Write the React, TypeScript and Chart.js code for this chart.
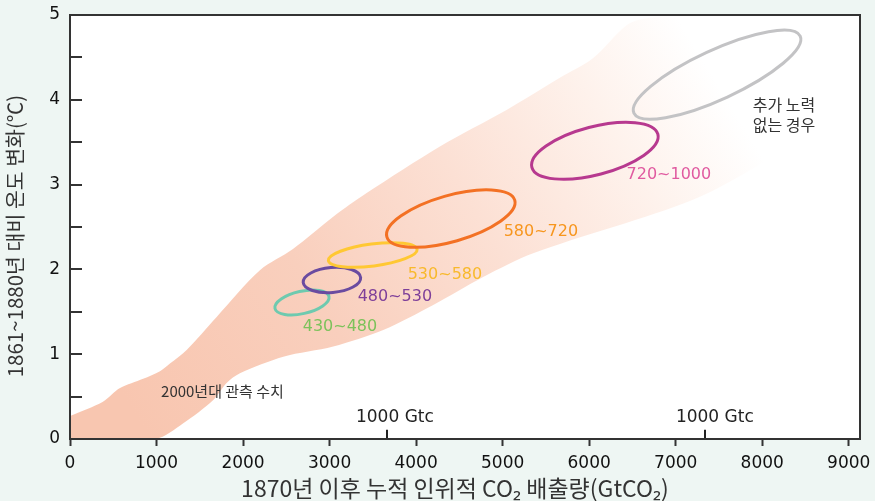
import React, { useEffect, useRef } from "react";
import { Chart, registerables } from "chart.js";

Chart.register(...registerables);

// ---- axis data ----
const xTickValues = [0, 1000, 2000, 3000, 4000, 5000, 6000, 7000, 8000, 9000];
const xMin = 0;
const xMax = 9130;
const yMin = 0;
const yMax = 5;
const yStep = 0.5;
const xTitle = "1870년 이후 누적 인위적 CO₂ 배출량(GtCO₂)";
const yTitle = "1861~1880년 대비 온도 변화(℃)";

// ---- observed/projected band (upper edge left→right, lower edge right→left) ----
const bandUpperX = [0, 381, 578, 845, 1040, 1155, 1348, 1695, 2195, 2577, 3042, 3428, 4275, 5045, 5661, 6043, 6432, 6650, 7000];
const bandUpperY = [0.27, 0.44, 0.6, 0.71, 0.8, 0.89, 1.05, 1.44, 1.99, 2.24, 2.62, 2.9, 3.45, 3.88, 4.26, 4.49, 4.88, 4.96, 4.96];
const bandLowerX = [8700, 8125, 7200, 5353, 4775, 4198, 3620, 3042, 2465, 1964, 1810, 1656, 1309, 990, 0];
const bandLowerY = [3.75, 3.33, 2.82, 2.19, 1.91, 1.58, 1.285, 1.09, 0.97, 0.775, 0.66, 0.46, 0.185, 0, 0];

// ---- CO2 concentration scenario ellipses (data units) ----
const scenarioNames = ["430~480", "480~530", "530~580", "580~720", "720~1000", "추가 노력 없는 경우"];
const scenarioCenterX = [2681, 3027, 3499, 4401, 6066, 7478];
const scenarioCenterY = [1.61, 1.875, 2.17, 2.6, 3.399, 4.296];
const scenarioHalfSpanX = [312, 332, 513, 739, 728, 961];
const scenarioHalfSpanY = [0.071, 0.029, 0.067, 0.216, 0.195, 0.454];
const scenarioHalfWidthY = [0.132, 0.147, 0.13, 0.272, 0.283, 0.29];
const scenarioColors = ["#6ECAAF", "#6A4BA0", "#FFC833", "#F37124", "#B7398F", "#C3C3C5"];

// ---- text annotations (data positions) ----
const labelTexts = ["430~480", "480~530", "530~580", "580~720", "720~1000"];
const labelX = [3120, 3755, 4333, 5442, 6921];
const labelY = [1.32, 1.675, 1.934, 2.44, 3.113];
const labelColors = ["#7CC25A", "#7E3F99", "#F8B92C", "#F7961E", "#E05AA0"];

const noteLines = ["추가 노력", "없는 경우"];
const noteX = 7891;
const noteY = [3.94, 3.7];
const obsText = "2000년대 관측 수치";
const obsX = 1762;
const obsY = 0.558;

const gtcTexts = ["1000 Gtc", "1000 Gtc"];
const gtcTickX = [3667, 7333];
const gtcLabelX = [3755, 7452];
const gtcLabelY = 0.248;
const gtcTickTop = 0.11;

const FONT_NUM = '"DejaVu Sans", sans-serif';
const FONT_KR = '"Noto Sans CJK KR", "Noto Sans", sans-serif';

const decorPlugin = {
  id: "decor",
  beforeDraw(chart: any) {
    const { ctx, chartArea } = chart;
    ctx.save();
    ctx.fillStyle = "#EEF6F3";
    ctx.fillRect(0, 0, chart.width, chart.height);
    ctx.fillStyle = "#FFFFFF";
    ctx.fillRect(chartArea.left, chartArea.top, chartArea.right - chartArea.left, chartArea.bottom - chartArea.top);
    ctx.restore();
  },
  afterDatasetsDraw(chart: any) {
    const { ctx, chartArea } = chart;
    const xs = chart.scales.x;
    const ys = chart.scales.y;
    ctx.save();
    // ellipses
    for (let i = 0; i < scenarioNames.length; i++) {
      const cx = xs.getPixelForValue(scenarioCenterX[i]);
      const cy = ys.getPixelForValue(scenarioCenterY[i]);
      const ex = xs.getPixelForValue(scenarioCenterX[i] + scenarioHalfSpanX[i]) - cx;
      const ey = ys.getPixelForValue(scenarioCenterY[i] + scenarioHalfSpanY[i]) - cy;
      const a = Math.hypot(ex, ey);
      const rot = Math.atan2(ey, ex);
      const b = Math.abs(ys.getPixelForValue(scenarioCenterY[i] + scenarioHalfWidthY[i]) - cy);
      ctx.beginPath();
      ctx.ellipse(cx, cy, a, b, rot, 0, Math.PI * 2);
      ctx.strokeStyle = scenarioColors[i];
      ctx.lineWidth = 3;
      ctx.stroke();
    }
    // range labels
    ctx.textAlign = "center";
    ctx.textBaseline = "middle";
    ctx.font = `16px ${FONT_NUM}`;
    for (let i = 0; i < labelTexts.length; i++) {
      ctx.fillStyle = labelColors[i];
      ctx.fillText(labelTexts[i], xs.getPixelForValue(labelX[i]), ys.getPixelForValue(labelY[i]));
    }
    // note
    ctx.fillStyle = "#333333";
    ctx.textAlign = "left";
    ctx.font = `16px ${FONT_KR}`;
    noteLines.forEach((t, i) => ctx.fillText(t, xs.getPixelForValue(noteX), ys.getPixelForValue(noteY[i])));
    ctx.textAlign = "center";
    ctx.font = `15px ${FONT_KR}`;
    ctx.fillText(obsText, xs.getPixelForValue(obsX), ys.getPixelForValue(obsY));
    // 1000 Gtc markers
    ctx.font = `17px ${FONT_NUM}`;
    ctx.fillStyle = "#222222";
    ctx.strokeStyle = "#222222";
    ctx.lineWidth = 2;
    for (let i = 0; i < gtcTexts.length; i++) {
      ctx.fillText(gtcTexts[i], xs.getPixelForValue(gtcLabelX[i]), ys.getPixelForValue(gtcLabelY));
      const tx = Math.round(xs.getPixelForValue(gtcTickX[i]));
      ctx.beginPath();
      ctx.moveTo(tx, ys.getPixelForValue(0));
      ctx.lineTo(tx, ys.getPixelForValue(gtcTickTop));
      ctx.stroke();
    }
    // inward y ticks
    ctx.strokeStyle = "#333333";
    ctx.lineWidth = 2;
    ys.ticks.forEach((t: any) => {
      const py = Math.round(ys.getPixelForValue(t.value));
      ctx.beginPath();
      ctx.moveTo(chartArea.left, py);
      ctx.lineTo(chartArea.left + 12, py);
      ctx.stroke();
    });
    // frame
    ctx.lineWidth = 2;
    ctx.strokeRect(chartArea.left, chartArea.top, chartArea.right - chartArea.left, chartArea.bottom - chartArea.top);
    // axis titles
    ctx.fillStyle = "#333333";
    ctx.textAlign = "center";
    ctx.textBaseline = "middle";
    ctx.font = `23px ${FONT_KR}`;
    ctx.fillText(xTitle, 455, 488);
    ctx.save();
    ctx.font = `20.5px ${FONT_KR}`;
    ctx.translate(15, 236);
    ctx.rotate(-Math.PI / 2);
    ctx.fillText(yTitle, 0, 0);
    ctx.restore();
    ctx.restore();
  },
};

export default function App() {
  const canvasRef = useRef<HTMLCanvasElement | null>(null);

  useEffect(() => {
    const canvas = canvasRef.current;
    if (!canvas) return;
    const bandPoints = [
      ...bandUpperX.map((x, i) => ({ x, y: bandUpperY[i] })),
      ...bandLowerX.map((x, i) => ({ x, y: bandLowerY[i] })),
    ];
    const chart = new Chart(canvas, {
      type: "scatter",
      data: {
        datasets: [
          {
            label: "band",
            data: bandPoints,
            showLine: true,
            fill: "shape",
            tension: 0.3,
            borderWidth: 0,
            borderColor: "rgba(0,0,0,0)",
            pointRadius: 0,
            backgroundColor: (c: any) => {
              const { chart: ch } = c;
              const area = ch.chartArea;
              if (!area) return "#F9CCB8";
              const g = ch.ctx.createLinearGradient(area.left + 80, area.bottom, area.left + 0.88 * (area.right - area.left), area.top + 50);
              g.addColorStop(0, "#F8C6B0");
              g.addColorStop(0.3, "#F9CFBD");
              g.addColorStop(0.55, "#FCE0D4");
              g.addColorStop(0.77, "#FEF2EC");
              g.addColorStop(0.93, "#FFFFFF");
              g.addColorStop(1, "#FFFFFF");
              return g;
            },
          } as any,
        ],
      },
      options: {
        animation: false,
        responsive: true,
        maintainAspectRatio: false,
        layout: { padding: { left: 0, right: 15, top: 15, bottom: 0 } },
        plugins: { legend: { display: false }, tooltip: { enabled: false } },
        scales: {
          x: {
            type: "linear",
            min: xMin,
            max: xMax,
            afterBuildTicks: (s: any) => {
              s.ticks = xTickValues.map((v) => ({ value: v }));
            },
            afterFit: (s: any) => {
              s.height = 62;
              s.paddingLeft = 0;
              s.paddingRight = 0;
            },
            border: { display: false },
            grid: { drawOnChartArea: false, drawTicks: true, tickLength: 7, tickWidth: 2, color: "#333333" },
            ticks: {
              padding: 7,
              color: "#111111",
              font: { family: FONT_NUM, size: 17 },
              maxRotation: 0,
              autoSkip: false,
              callback: (v: any) => String(v),
            },
          },
          y: {
            type: "linear",
            min: yMin,
            max: yMax,
            afterFit: (s: any) => {
              s.width = 70;
              s.paddingTop = 0;
              s.paddingBottom = 0;
            },
            border: { display: false },
            grid: { drawOnChartArea: false, drawTicks: false },
            ticks: {
              stepSize: yStep,
              padding: 10,
              color: "#111111",
              font: { family: FONT_NUM, size: 17 },
              callback: (v: any) => (Number.isInteger(v) ? String(v) : ""),
            },
          },
        },
      },
      plugins: [decorPlugin],
    });
    return () => chart.destroy();
  }, []);

  return (
    <div style={{ position: "fixed", left: 0, top: 0, width: 875, height: 501, background: "#EEF6F3" }}>
      <canvas ref={canvasRef} />
    </div>
  );
}
